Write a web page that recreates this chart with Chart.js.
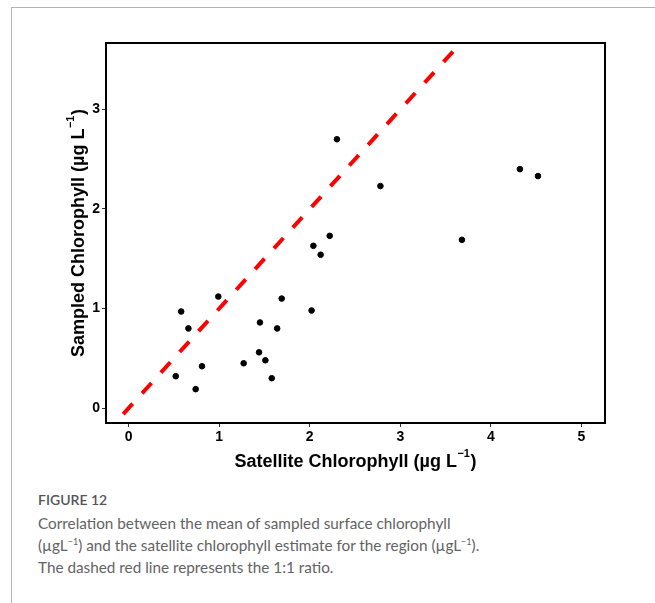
<!DOCTYPE html>
<html>
<head>
<meta charset="utf-8">
<script src="https://cdn.jsdelivr.net/npm/chart.js@4/dist/chart.umd.min.js"></script>
<style>
  body { margin: 0; background: #fff; }
  .frame {
    position: absolute; left: 11px; top: 7px; width: 700px; height: 700px;
    border-left: 1px solid #b4b4b4; border-top: 1px solid #b4b4b4;
  }
  #wrap { position: absolute; left: 0; top: 0; width: 655px; height: 480px; }
  .caption {
    position: absolute; left: 38px; top: 491px; width: 600px;
    font-family: Lato, "Open Sans", sans-serif; color: #636363;
  }
  .caption .fig { font-size: 14px; font-weight: 600; color: #555; margin-bottom: 4px; }
  .caption p { margin: 0; font-size: 15.3px; line-height: 22px; font-weight: 400; }
  sup { font-size: 9px; vertical-align: 6px; line-height: 0; }
</style>
</head>
<body>
<div class="frame"></div>
<div id="wrap"><canvas id="chart" width="655" height="480"></canvas></div>
<div class="caption">
  <div class="fig">FIGURE 12</div>
  <p>Correlation between the mean of sampled surface chlorophyll<br>(µgL<sup>−1</sup>) and the satellite chlorophyll estimate for the region (µgL<sup>−1</sup>).<br>The dashed red line represents the 1:1 ratio.</p>
</div>
<script>
// data
const satellite = [0.52, 0.58, 0.66, 0.74, 0.81, 0.99, 1.27, 1.44, 1.45, 1.51, 1.58,
  1.64, 1.69, 2.02, 2.04, 2.12, 2.22, 2.30, 2.78, 3.68, 4.32, 4.52];
const sampled = [0.32, 0.97, 0.80, 0.19, 0.42, 1.12, 0.45, 0.56, 0.86, 0.48, 0.30,
  0.80, 1.10, 0.98, 1.63, 1.54, 1.73, 2.70, 2.23, 1.69, 2.40, 2.33];
const oneToOne = [-0.06, 4];
const xTicks = [0, 1, 2, 3, 4, 5];
const yTicks = [0, 1, 2, 3];

const tickFont = { family: "'Liberation Sans', Arial, sans-serif", size: 14, weight: "bold" };

// box around the panel + axis titles with superscript
const panelDecor = {
  id: "panelDecor",
  afterDraw(chart) {
    const { ctx, chartArea: a } = chart;
    ctx.save();
    ctx.strokeStyle = "#000";
    ctx.lineWidth = 2;
    ctx.strokeRect(a.left, a.top, a.right - a.left, a.bottom - a.top);

    const drawTitle = (main, cx, cy, rot) => {
      ctx.save();
      ctx.translate(cx, cy);
      ctx.rotate(rot);
      ctx.fillStyle = "#000";
      ctx.textBaseline = "alphabetic";
      ctx.textAlign = "left";
      const big = "bold 18px 'Liberation Sans', Arial, sans-serif";
      const small = "bold 11px 'Liberation Sans', Arial, sans-serif";
      ctx.font = big;
      const w1 = ctx.measureText(main).width;
      const w3 = ctx.measureText(")").width;
      ctx.font = small;
      const w2 = ctx.measureText("−1").width + 1;
      let x = -(w1 + w2 + w3) / 2;
      ctx.font = big;
      ctx.fillText(main, x, 7);
      x += w1;
      ctx.font = small;
      ctx.fillText("−1", x + 0.5, -3);
      x += w2;
      ctx.font = big;
      ctx.fillText(")", x, 7);
      ctx.restore();
    };
    drawTitle("Satellite Chlorophyll (µg L", (a.left + a.right) / 2, 460, 0);
    drawTitle("Sampled Chlorophyll (µg L", 77, (a.top + a.bottom) / 2, -Math.PI / 2);
    ctx.restore();
  },
};

new Chart(document.getElementById("chart"), {
  type: "scatter",
  data: {
    datasets: [
      {
        data: satellite.map((x, i) => ({ x: x, y: sampled[i] })),
        backgroundColor: "#000",
        borderColor: "#000",
        pointRadius: 2.8,
        order: 1,
      },
      {
        type: "line",
        data: oneToOne.map((v) => ({ x: v, y: v })),
        borderColor: "#ff0000",
        borderWidth: 4,
        borderDash: [14, 14],
        pointRadius: 0,
        fill: false,
        clip: 0,
        order: 2,
      },
    ],
  },
  options: {
    responsive: false,
    animation: false,
    layout: { padding: { top: 43, right: 50, left: 0, bottom: 0 } },
    plugins: { legend: { display: false }, tooltip: { enabled: false } },
    scales: {
      x: {
        type: "linear",
        min: -0.25,
        max: 5.26,
        afterBuildTicks: (s) => { s.ticks = xTicks.map((v) => ({ value: v })); },
        afterFit: (s) => { s.height = 57; },
        grid: { drawOnChartArea: false, drawTicks: true, tickLength: 4, color: "#333" },
        border: { display: false },
        ticks: { color: "#000", font: tickFont, padding: 2, maxRotation: 0 },
      },
      y: {
        type: "linear",
        min: -0.15,
        max: 3.667,
        afterBuildTicks: (s) => { s.ticks = yTicks.map((v) => ({ value: v })); },
        afterFit: (s) => { s.width = 106; },
        grid: { drawOnChartArea: false, drawTicks: true, tickLength: 4, color: "#333" },
        border: { display: false },
        ticks: { color: "#000", font: tickFont, padding: 2 },
      },
    },
  },
  plugins: [panelDecor],
});
</script>
</body>
</html>
